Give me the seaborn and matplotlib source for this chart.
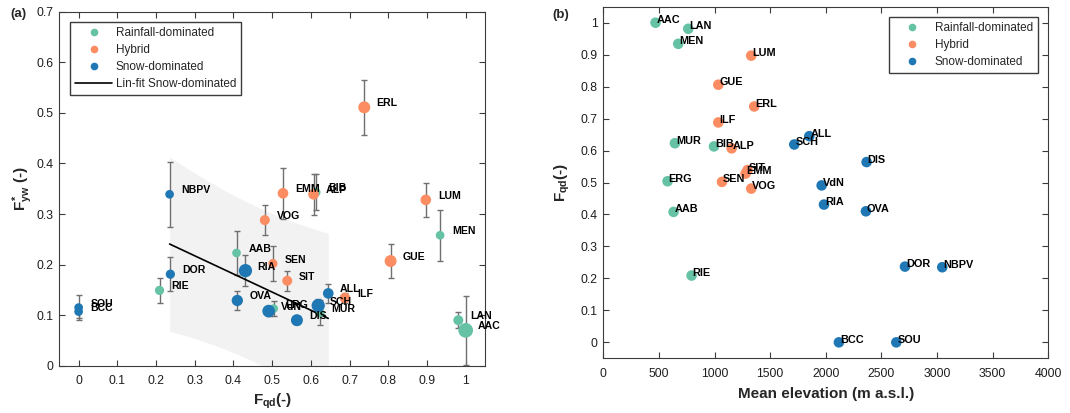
import numpy as np
import pandas as pd
import seaborn as sns
import matplotlib.pyplot as plt
from matplotlib.lines import Line2D
from matplotlib.ticker import FuncFormatter

# values
catchments = ['AAC', 'LAN', 'MEN', 'LUM', 'GUE', 'ERL', 'ILF', 'ALL', 'SCH', 'MUR',
              'BIB', 'ALP', 'DIS', 'SIT', 'EMM', 'ERG', 'SEN', 'VOG', 'VdN', 'RIA',
              'OVA', 'AAB', 'DOR', 'NBPV', 'RIE', 'BCC', 'SOU']
regime = ['Rainfall-dominated', 'Rainfall-dominated', 'Rainfall-dominated', 'Hybrid', 'Hybrid',
          'Hybrid', 'Hybrid', 'Snow-dominated', 'Snow-dominated', 'Rainfall-dominated',
          'Rainfall-dominated', 'Hybrid', 'Snow-dominated', 'Hybrid', 'Hybrid',
          'Rainfall-dominated', 'Hybrid', 'Hybrid', 'Snow-dominated', 'Snow-dominated',
          'Snow-dominated', 'Rainfall-dominated', 'Snow-dominated', 'Snow-dominated',
          'Rainfall-dominated', 'Snow-dominated', 'Snow-dominated']
f_qd = [1.000, 0.981, 0.934, 0.897, 0.806, 0.738, 0.688, 0.645, 0.619, 0.623,
        0.613, 0.607, 0.564, 0.539, 0.528, 0.504, 0.502, 0.481, 0.491, 0.431,
        0.410, 0.408, 0.237, 0.235, 0.209, 0.0, 0.0]
f_yw = [0.070, 0.090, 0.258, 0.328, 0.207, 0.511, 0.134, 0.143, 0.119, 0.105,
        0.343, 0.339, 0.090, 0.168, 0.341, 0.113, 0.202, 0.288, 0.108, 0.188,
        0.129, 0.223, 0.181, 0.339, 0.149, 0.107, 0.115]
f_yw_err = [0.068, 0.016, 0.050, 0.034, 0.034, 0.055, 0.010, 0.018, 0.013, 0.025,
            0.036, 0.041, 0.008, 0.020, 0.050, 0.014, 0.035, 0.029, 0.010, 0.030,
            0.018, 0.044, 0.034, 0.064, 0.024, 0.012, 0.025]
elevation = [470, 764, 674, 1330, 1034, 1357, 1034, 1852, 1717, 644,
             995, 1154, 2367, 1297, 1279, 578, 1067, 1330, 1963, 1984,
             2361, 632, 2712, 3047, 794, 2118, 2634]
# relative catchment size (drives marker size in panel a)
area_rel = [216, 100, 76, 114, 144, 144, 114, 114, 177, 86,
            86, 114, 144, 100, 114, 76, 86, 100, 161, 177,
            128, 76, 86, 76, 86, 76, 76]

regime_order = ['Rainfall-dominated', 'Hybrid', 'Snow-dominated']
colors = {'Rainfall-dominated': '#66c2a5', 'Hybrid': '#fc8d62', 'Snow-dominated': '#1f78b4'}

df = pd.DataFrame({'catchment': catchments, 'regime': regime, 'Fqd': f_qd,
                   'Fyw': f_yw, 'err': f_yw_err, 'elev': elevation, 'area': area_rel})
df['order'] = df['regime'].map({r: i for i, r in enumerate(regime_order)})
df = df.sort_values('order', kind='stable').reset_index(drop=True)

sns.set_theme(style='ticks')
plt.rcParams['font.family'] = ['Liberation Sans', 'DejaVu Sans']
plt.rcParams['mathtext.fontset'] = 'custom'
plt.rcParams['mathtext.rm'] = 'Liberation Sans:bold'
plt.rcParams['mathtext.it'] = 'Liberation Sans:bold'
plt.rcParams['mathtext.bf'] = 'Liberation Sans:bold'

edge = '#3c3c3c'


def style_axes(ax):
    for s in ax.spines.values():
        s.set_visible(True)
        s.set_color(edge)
        s.set_linewidth(0.8)
    ax.tick_params(direction='in', top=True, right=True, length=4, width=0.8,
                   color=edge, labelsize=8.8, labelcolor='#1e1e1e')
    ax.tick_params(axis='x', pad=7)
    ax.tick_params(axis='y', pad=4)
    fmt = FuncFormatter(lambda v, p: f'{v:g}')
    ax.xaxis.set_major_formatter(fmt)
    ax.yaxis.set_major_formatter(fmt)


def legend_handles(with_fit):
    h = [Line2D([], [], ls='none', marker='o', ms=5.5, mfc=colors[r], mec='none', label=r)
         for r in regime_order]
    if with_fit:
        h.append(Line2D([], [], color='black', lw=1.2, label='Lin-fit Snow-dominated'))
    return h


fig = plt.figure(figsize=(10.7, 4.13), dpi=100)
ax1 = fig.add_axes([0.0554, 0.1145, 0.3979, 0.857])
ax2 = fig.add_axes([0.5638, 0.1324, 0.4159, 0.8513])

# ---- (a) F*yw vs Fqd
snow = df[(df['regime'] == 'Snow-dominated') & (df['Fqd'] > 0)]
xs, ys = snow['Fqd'].values, snow['Fyw'].values
slope, icpt = np.polyfit(xs, ys, 1)
n = len(xs)
resid = ys - (slope * xs + icpt)
s_err = np.sqrt(np.sum(resid ** 2) / (n - 2))
t_crit = 2.447  # 95 %, 6 dof
xf = np.linspace(xs.min(), xs.max(), 50)
yf = slope * xf + icpt
half = t_crit * s_err * np.sqrt(1 + 1 / n + (xf - xs.mean()) ** 2 / np.sum((xs - xs.mean()) ** 2))
ax1.fill_between(xf, yf - half, yf + half, color='#f2f2f2', lw=0, zorder=0)
ax1.plot(xf, yf, color='black', lw=1.2, zorder=3)

ax1.errorbar(df['Fqd'], df['Fyw'], yerr=df['err'], fmt='none', ecolor='#707070',
             elinewidth=1, capsize=2.4, capthick=1, zorder=2)
sns.scatterplot(data=df, x='Fqd', y='Fyw', hue='regime', palette=colors, size='area',
                sizes=(39, 112), size_norm=(76, 216), linewidth=0, legend=False,
                ax=ax1, zorder=4)
for _, r in df.iterrows():
    ax1.annotate(r['catchment'], (r['Fqd'], r['Fyw']), xytext=(8.6, 2.9),
                 textcoords='offset points', ha='left', va='center',
                 fontsize=7.6, fontweight='bold', color='black', zorder=5)

ax1.set_xlim(-0.05, 1.05)
ax1.set_ylim(0, 0.7)
ax1.set_xticks(np.arange(0, 1.01, 0.1))
ax1.set_yticks(np.arange(0, 0.71, 0.1))
style_axes(ax1)
ax1.set_xlabel(r'$F_{qd}$(-)', fontsize=11, fontweight='bold', labelpad=3)
ax1.set_ylabel(r'$F^{*}_{yw}$ (-)', fontsize=11, fontweight='bold', labelpad=1)
ax1.legend(handles=legend_handles(True), loc='upper left', fontsize=8.5,
           frameon=True, fancybox=False, edgecolor=edge, framealpha=1,
           handlelength=3.2, handletextpad=0.3, labelspacing=0.42,
           borderaxespad=0.9, borderpad=0.4)

# ---- (b) Fqd vs mean elevation
sns.scatterplot(data=df, x='elev', y='Fqd', hue='regime', palette=colors, s=58,
                linewidth=0, legend=False, ax=ax2, zorder=3)
for _, r in df.iterrows():
    ax2.annotate(r['catchment'], (r['elev'], r['Fqd']), xytext=(0.7, 1.8),
                 textcoords='offset points', ha='left', va='center',
                 fontsize=7.8, fontweight='bold', color='black', zorder=5)
ax2.set_xlim(0, 4000)
ax2.set_ylim(-0.05, 1.05)
ax2.set_xticks(np.arange(0, 4001, 500))
ax2.set_yticks(np.arange(0, 1.01, 0.1))
style_axes(ax2)
ax2.set_xlabel('Mean elevation (m a.s.l.)', fontsize=11, fontweight='bold', labelpad=5)
ax2.set_ylabel(r'$F_{qd}$(-)', fontsize=11, fontweight='bold', labelpad=6)
ax2.legend(handles=legend_handles(False), loc='upper right', fontsize=8.5,
           frameon=True, fancybox=False, edgecolor=edge, framealpha=1,
           handlelength=3.2, handletextpad=0.3, labelspacing=0.42,
           borderaxespad=0.9, borderpad=0.4)

fig.text(0.0095, 0.966, '(a)', fontsize=9.5, fontweight='bold', va='center')
fig.text(0.516, 0.963, '(b)', fontsize=9.5, fontweight='bold', va='center')

fig.savefig('out.png', dpi=100)
plt.close(fig)
